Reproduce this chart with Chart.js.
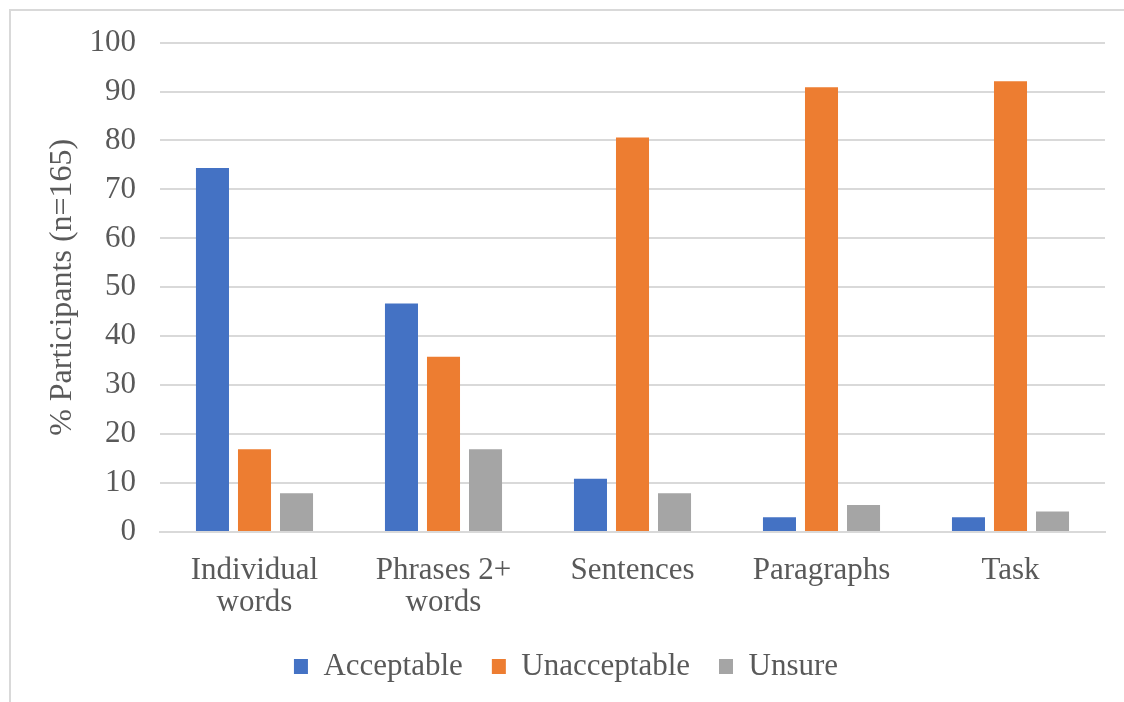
<!DOCTYPE html>
<html lang="en">
<head>
  <meta charset="UTF-8">
  <title>Participants by unit</title>
  <script src="https://cdn.jsdelivr.net/npm/chart.js"></script>
  <style>
    html, body {
      margin: 0;
      padding: 0;
      background: #fff;
    }
    #wrap {
      position: relative;
      width: 1124px;
      height: 702px;
    }
    #frame {
      position: absolute;
      left: 9px;
      top: 9px;
      width: 1200px;
      height: 800px;
      border-top: 2px solid #d9d9d9;
      border-left: 2px solid #d9d9d9;
      pointer-events: none;
    }
  </style>
</head>
<body>
  <div id="wrap">
    <canvas id="chart" width="1124" height="702"></canvas>
    <div id="frame"></div>
  </div>

  <script>
    const categories = [["Individual", "words"], ["Phrases 2+", "words"], "Sentences", "Paragraphs", "Task"];
    const acceptable = [74.4, 46.7, 10.9, 3.0, 3.0];
    const unacceptable = [16.9, 35.8, 80.6, 90.9, 92.1];
    const unsure = [7.9, 16.9, 7.9, 5.5, 4.2];
    const yTicks = [0, 10, 20, 30, 40, 50, 60, 70, 80, 90, 100];

    const textColor = "#595959";
    const serif = "'Liberation Serif', 'Times New Roman', serif";

    function makeSet(label, data, color) {
      return {
        label: label,
        data: data,
        backgroundColor: color,
        borderWidth: 0,
        categoryPercentage: 0.667,
        barPercentage: 0.786
      };
    }

    new Chart(document.getElementById("chart"), {
      type: "bar",
      data: {
        labels: categories,
        datasets: [
          makeSet("Acceptable", acceptable, "#4472c4"),
          makeSet("Unacceptable", unacceptable, "#ed7d31"),
          makeSet("Unsure", unsure, "#a5a5a5")
        ]
      },
      options: {
        responsive: false,
        animation: false,
        layout: { padding: { left: 27, right: 19, top: 32, bottom: 10 } },
        plugins: {
          tooltip: { enabled: false },
          legend: {
            position: "bottom",
            labels: {
              color: textColor,
              font: { family: serif, size: 31 },
              boxWidth: 14,
              boxHeight: 15,
              padding: 29
            }
          }
        },
        scales: {
          x: {
            afterFit: scale => {
              scale.height = 90;
            },
            grid: { display: false, drawTicks: false },
            border: { color: "#d9d9d9", width: 2 },
            ticks: {
              color: textColor,
              font: { family: serif, size: 31, lineHeight: 1.03 },
              padding: 23,
              maxRotation: 0,
              autoSkip: false
            }
          },
          y: {
            min: 0,
            max: 100,
            afterBuildTicks: scale => {
              scale.ticks = yTicks.map(v => ({ value: v }));
            },
            afterFit: scale => {
              scale.width = 133;
            },
            grid: { color: "#d9d9d9", lineWidth: 2, drawTicks: false },
            border: { display: false },
            ticks: {
              color: textColor,
              font: { family: serif, size: 31 },
              padding: 24
            },
            title: {
              display: true,
              text: "% Participants (n=165)",
              color: textColor,
              font: { family: serif, size: 32 },
              padding: { top: 16, bottom: 0 }
            }
          }
        }
      }
    });
  </script>
</body>
</html>
